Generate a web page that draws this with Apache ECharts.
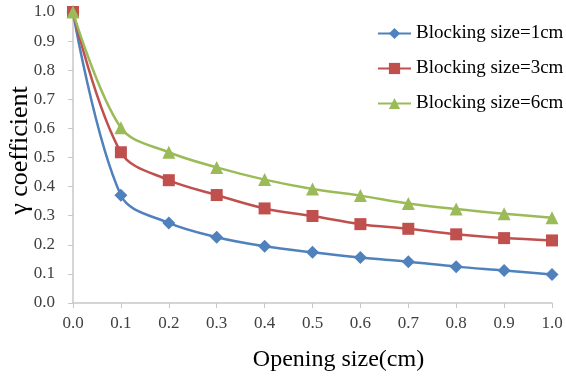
<!DOCTYPE html>
<html><head><meta charset="utf-8">
<script src="https://cdn.jsdelivr.net/npm/echarts@6/dist/echarts.min.js"></script>
<style>html,body{margin:0;padding:0;background:#fff}#c{width:566px;height:378px}</style>
</head><body><div id="c"></div>
<script>
var openingSize = [0.0, 0.1, 0.2, 0.3, 0.4, 0.5, 0.6, 0.7, 0.8, 0.9, 1.0];
var block1 = [1.0, 0.37, 0.275, 0.226, 0.195, 0.174, 0.156, 0.142, 0.125, 0.112, 0.098];
var block3 = [1.0, 0.518, 0.422, 0.371, 0.325, 0.299, 0.271, 0.255, 0.236, 0.223, 0.215];
var block6 = [1.0, 0.602, 0.518, 0.466, 0.424, 0.392, 0.369, 0.342, 0.323, 0.307, 0.293];
var seriesNames = ['Blocking size=1cm', 'Blocking size=3cm', 'Blocking size=6cm'];
var colors = ['#4F81BD', '#C0504D', '#9BBB59'];
var symbols = ['diamond', 'rect', 'triangle'];
var symbolSizes = [13, 12, 13];

function pairs(vals){ return openingSize.map(function(x,i){ return [x, vals[i]]; }); }
var serif = '"Liberation Serif", "Times New Roman", serif';
var data = [block1, block3, block6];
var chart = echarts.init(document.getElementById('c'));
chart.setOption({
  animation: false,
  textStyle: {fontFamily: serif},
  grid: {left: 73, right: 14, top: 12, bottom: 75, containLabel: false, outerBoundsMode: 'none'},
  legend: {
    orient: 'vertical', left: 372, top: 18, itemWidth: 33, itemHeight: 14, itemGap: 14,
    textStyle: {fontFamily: serif, fontSize: 19, color: '#000', lineHeight: 21},
    data: seriesNames
  },
  xAxis: {
    type: 'value', min: 0, max: 1, interval: 0.1,
    name: 'Opening size(cm)', nameLocation: 'middle', nameGap: 45,
    nameTextStyle: {fontFamily: serif, fontSize: 24, color: '#000', padding: [0, 0, 0, 52]},
    axisLine: {lineStyle: {color: '#c8c8c8', width: 1.5}},
    axisTick: {show: true, length: 5, lineStyle: {color: '#c8c8c8'}},
    axisLabel: {fontFamily: serif, fontSize: 17, color: '#404040', margin: 12, formatter: function(v){return v.toFixed(1);}},
    splitLine: {show: false}
  },
  yAxis: {
    type: 'value', min: 0, max: 1, interval: 0.1,
    name: 'γ coefficient', nameLocation: 'middle', nameGap: 40, nameMoveOverlap: false,
    nameTextStyle: {fontFamily: serif, fontSize: 26, color: '#000', padding: [0, 0, 0, 14]},
    axisLine: {show: true, lineStyle: {color: '#c8c8c8', width: 1.5}},
    axisTick: {show: true, length: 5, lineStyle: {color: '#c8c8c8'}},
    axisLabel: {fontFamily: serif, fontSize: 17, color: '#404040', margin: 18, formatter: function(v){return v.toFixed(1);}},
    splitLine: {show: false}
  },
  series: data.map(function(d, i){
    return {
      name: seriesNames[i], type: 'line', data: pairs(d), smooth: 0.35,
      symbol: symbols[i], symbolSize: symbolSizes[i],
      itemStyle: {color: colors[i]},
      lineStyle: {color: colors[i], width: 2.5}
    };
  })
});
</script></body></html>
